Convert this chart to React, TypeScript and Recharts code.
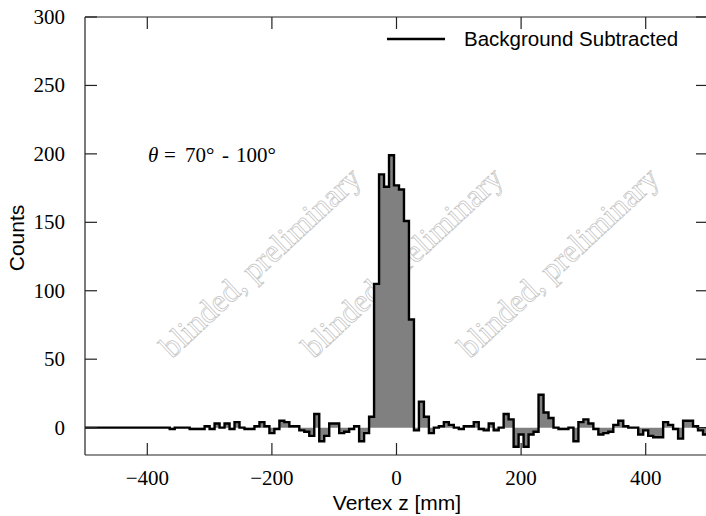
import { ComposedChart, Area, XAxis, YAxis } from 'recharts';

const Z_MIN = -500;
const Z_MAX = 500;
const BIN_WIDTH = 8;

// background subtracted counts, one per 8 mm bin starting at z = -500 mm
const counts = [
  0, 0, 0, 0, 0, 0, 0, 0, 0, 0,
  0, 0, 0, 0, 0, 0, 0, -1, 0, 0,
  0, -1, -1, -1, 1, -1, 3, 0, 3, -1,
  4, 0, -1, -1, 1, 4, 1, -4, -1, 5,
  4, 1, 1, -2, -3, -6, 10, -10, -6, 3,
  3, -4, -3, -1, 1, -10, -4, 8, 105, 185,
  176, 199, 177, 174, 151, 79, -2, 19, 8, -4,
  0, 1, 4, 2, 0, -1, 1, 1, 4, -1,
  -2, 3, -2, 0, 10, 6, -14, -5, -14, -5,
  -3, 24, 11, 7, 0, -1, -1, 0, -10, 4,
  6, 3, -1, -5, -4, -3, 2, 5, 1, 0,
  0, -5, -2, -6, -7, -7, 4, 2, -1, -8,
  5, 5, 1, -2, -5,
];

const xTicks = [-400, -200, 0, 200, 400];
const yTicks = [0, 50, 100, 150, 200, 250, 300];

const data = counts.map((c, i) => ({
  z: Z_MIN + i * BIN_WIDTH,
  counts: c,
}));
data.push({ z: Z_MAX, counts: counts[counts.length - 1] });

// plot box in page pixels
const LEFT = 85;
const RIGHT = 708;
const TOP = 17;
const BOTTOM = 455;
const TICK = 12;
const W = 720;
const H = 516;

const SERIF = '"Liberation Serif", "Times New Roman", serif';
const SANS = '"Liberation Sans", Arial, sans-serif';
const AXIS = '#222';

const fmt = (v: number) =>
  v < 0 ? '\u2212' + Math.abs(v) : String(v);

function BottomTick({ x, payload }: any) {
  return (
    <g>
      <line x1={x} x2={x} y1={BOTTOM} y2={BOTTOM - TICK} stroke={AXIS} strokeWidth={1.2} />
      <text x={x} y={485} textAnchor="middle" fontFamily={SERIF} fontSize={21} fill="#000">
        {fmt(payload.value)}
      </text>
    </g>
  );
}

function TopTick({ x }: any) {
  return <line x1={x} x2={x} y1={TOP} y2={TOP + TICK} stroke={AXIS} strokeWidth={1.2} />;
}

function LeftTick({ y, payload }: any) {
  return (
    <g>
      <line x1={LEFT} x2={LEFT + TICK} y1={y} y2={y} stroke={AXIS} strokeWidth={1.2} />
      <text x={65} y={y + 7} textAnchor="end" fontFamily={SERIF} fontSize={21} fill="#000">
        {fmt(payload.value)}
      </text>
    </g>
  );
}

function RightTick({ y }: any) {
  return <line x1={RIGHT - TICK} x2={RIGHT} y1={y} y2={y} stroke={AXIS} strokeWidth={1.2} />;
}

export default function App() {
  return (
    <div
      style={{
        position: 'fixed',
        left: 0,
        top: 0,
        width: 706,
        height: 516,
        overflow: 'hidden',
        background: '#fff',
      }}
    >
      {/* watermark sits under the histogram */}
      <svg width={706} height={516} style={{ position: 'absolute', left: 0, top: 0 }}>
        {[260, 402, 558].map((cx) => (
          <text
            key={cx}
            x={cx}
            y={262}
            textAnchor="middle"
            dominantBaseline="central"
            fontFamily={SERIF}
            fontSize={32}
            fill="none"
            stroke="#c2c2c2"
            strokeWidth={0.7}
            transform={`rotate(-43 ${cx} 262)`}
          >
            blinded, preliminary
          </text>
        ))}
      </svg>

      <div style={{ position: 'absolute', left: 0, top: 0 }}>
        <ComposedChart
          width={W}
          height={H}
          data={data}
          margin={{ top: TOP - 1, right: W - RIGHT - 1, bottom: H - BOTTOM - 30, left: LEFT - 60 }}
        >
          <XAxis
            dataKey="z"
            type="number"
            domain={[Z_MIN, Z_MAX]}
            ticks={xTicks}
            interval={0}
            height={30}
            tickLine={false}
            axisLine={{ stroke: AXIS, strokeWidth: 1.2 }}
            tick={<BottomTick />}
            allowDataOverflow
          />
          <XAxis
            xAxisId="top"
            orientation="top"
            dataKey="z"
            type="number"
            domain={[Z_MIN, Z_MAX]}
            ticks={xTicks}
            interval={0}
            height={1}
            tickLine={false}
            axisLine={{ stroke: AXIS, strokeWidth: 1.2 }}
            tick={<TopTick />}
            allowDataOverflow
          />
          <YAxis
            type="number"
            domain={[-20, 300]}
            ticks={yTicks}
            interval={0}
            width={60}
            tickLine={false}
            axisLine={{ stroke: AXIS, strokeWidth: 1.2 }}
            tick={<LeftTick />}
            allowDataOverflow
          />
          <YAxis
            yAxisId="right"
            orientation="right"
            type="number"
            domain={[-20, 300]}
            ticks={yTicks}
            interval={0}
            width={1}
            tickLine={false}
            axisLine={{ stroke: AXIS, strokeWidth: 1.2 }}
            tick={<RightTick />}
            allowDataOverflow
          />
          <Area
            dataKey="counts"
            type="stepAfter"
            baseValue={0}
            stroke="#000"
            strokeWidth={2.4}
            fill="#808080"
            fillOpacity={1}
            dot={false}
            activeDot={false}
            isAnimationActive={false}
          />
        </ComposedChart>
      </div>

      {/* labels and legend */}
      <svg
        width={706}
        height={516}
        style={{ position: 'absolute', left: 0, top: 0, pointerEvents: 'none' }}
      >
        <text
          x={24}
          y={238}
          textAnchor="middle"
          fontFamily={SANS}
          fontSize={21}
          transform="rotate(-90 24 238)"
        >
          Counts
        </text>
        <text x={397} y={510} textAnchor="middle" fontFamily={SANS} fontSize={21}>
          Vertex z [mm]
        </text>
        <text y={162} fontFamily={SERIF} fontSize={21}>
          <tspan x={148} fontStyle="italic">θ</tspan>
          <tspan x={164}>=</tspan>
          <tspan x={185}>70°</tspan>
          <tspan x={222}>-</tspan>
          <tspan x={236}>100°</tspan>
        </text>
        <line x1={387} x2={445} y1={39} y2={39} stroke="#000" strokeWidth={2.4} />
        <text x={464} y={46} fontFamily={SANS} fontSize={20.5}>
          Background Subtracted
        </text>
      </svg>
    </div>
  );
}
